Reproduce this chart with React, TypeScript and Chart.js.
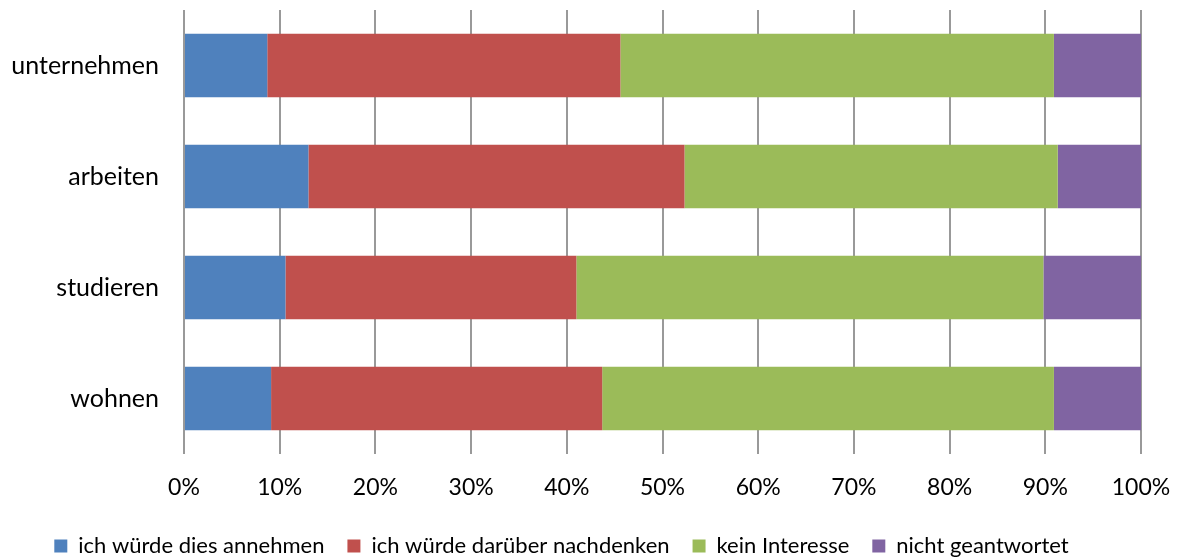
import React, { useEffect, useRef } from "react";
import { Chart, registerables } from "chart.js";

Chart.register(...registerables);

const categories = ["unternehmen", "arbeiten", "studieren", "wohnen"];
const seriesNames = [
  "ich würde dies annehmen",
  "ich würde darüber nachdenken",
  "kein Interesse",
  "nicht geantwortet",
];
const annehmen = [8.7, 13.0, 10.6, 9.1];
const nachdenken = [36.9, 39.3, 30.4, 34.6];
const keinInteresse = [45.3, 39.0, 48.8, 47.2];
const nichtGeantwortet = [9.1, 8.7, 10.2, 9.1];
const colors = ["#4F81BD", "#C0504D", "#9BBB59", "#8064A2"];
const xTicks = [0, 10, 20, 30, 40, 50, 60, 70, 80, 90, 100];

const FONT = "Lato";
const LEGEND_PAD = 23;
const LEGEND_FONT = 22;

export default function App() {
  const ref = useRef<HTMLCanvasElement | null>(null);
  useEffect(() => {
    if (!ref.current) return;
    const series = [annehmen, nachdenken, keinInteresse, nichtGeantwortet];
    const legendShift = {
      id: "legendShift",
      afterLayout(chart: any) {
        const lg = chart.legend;
        if (!lg) return;
        const dx = -9;
        lg.left += dx;
        lg.right += dx;
        const center = lg.top + LEGEND_PAD + LEGEND_FONT / 2;
        const dy = 546 - center;
        lg.top += dy;
        lg.bottom += dy;
      },
    };
    const chart = new Chart(ref.current, {
      type: "bar",
      data: {
        labels: categories,
        datasets: series.map((d, i) => ({
          label: seriesNames[i],
          data: d,
          backgroundColor: colors[i],
          borderWidth: 0,
          categoryPercentage: 1,
          barPercentage: 0.57,
        })),
      },
      options: {
        indexAxis: "y",
        responsive: false,
        animation: false,
        layout: { padding: { top: 10, right: 39, bottom: 0, left: 0 } },
        plugins: {
          tooltip: { enabled: false },
          legend: {
            position: "bottom",
            align: "center",
            labels: {
              boxWidth: 13,
              boxHeight: 13,
              padding: LEGEND_PAD,
              color: "#000",
              font: { family: FONT, size: LEGEND_FONT },
            },
          },
        },
        scales: {
          x: {
            stacked: true,
            min: 0,
            max: 100,
            afterBuildTicks(axis: any) {
              axis.ticks = xTicks.map((v) => ({ value: v }));
            },
            afterFit(axis: any) {
              const lh = axis.chart.legend ? axis.chart.legend.height : 0;
              axis.height = 106 - lh;
              axis.paddingLeft = 0;
              axis.paddingRight = 0;
            },
            ticks: {
              padding: 20,
              color: "#000",
              font: { family: FONT, size: 23 },
              callback: (v: any) => v + "%",
            },
            grid: { color: "#999999", lineWidth: 2, drawTicks: false },
            border: { display: false },
          },
          y: {
            stacked: true,
            afterFit(axis: any) {
              axis.width = 184;
              axis.paddingTop = 0;
              axis.paddingBottom = 0;
            },
            ticks: {
              padding: 25,
              color: "#000",
              font: { family: FONT, size: 25 },
            },
            grid: { display: false, drawTicks: false },
            border: { display: false },
          },
        },
      },
      plugins: [legendShift],
    } as any);
    return () => chart.destroy();
  }, []);
  return (
    <div style={{ position: "absolute", left: 0, top: 0, width: 1180, height: 560 }}>
      <canvas ref={ref} width={1180} height={560} style={{ display: "block" }} />
    </div>
  );
}
